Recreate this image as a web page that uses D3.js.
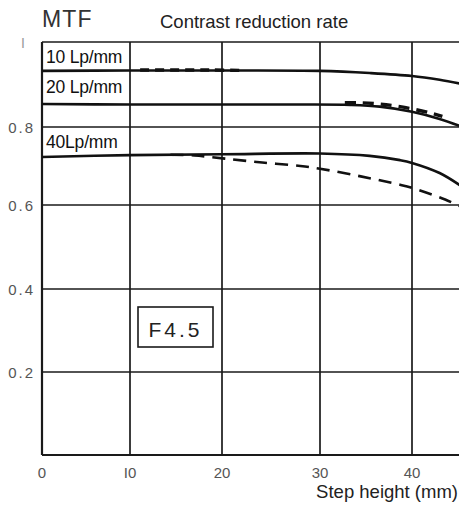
<!DOCTYPE html>
<html><head><meta charset="utf-8">
<script src="https://cdn.jsdelivr.net/npm/d3@7"></script>
<style>
html,body{margin:0;padding:0;background:#fff;}
svg{display:block;}
</style></head>
<body>
<svg id="c" width="459" height="506"></svg>
<script>
// ---- data ----
const xTicks = [0, 10, 20, 30, 40];
const yTicks = [0.2, 0.4, 0.6, 0.8];
const yTickLabels = ["0.2", "0.4", "0.6", "0.8"];
const seriesLabels = ["10 Lp/mm", "20 Lp/mm", "40Lp/mm"];

const lp10Solid = [[0,0.932],[10,0.933],[20,0.933],[30,0.932],[35.4,0.927],[40,0.920],[43,0.911],[45.5,0.901]];
const lp10Dashed = [[11.1,0.934],[15,0.934],[18.9,0.934],[22.2,0.933]];
const lp20Solid = [[0,0.854],[10,0.853],[20,0.853],[28,0.853],[33.3,0.852],[36.5,0.848],[40,0.836],[43,0.819],[45.5,0.800]];
const lp20Dashed = [[32.7,0.857],[34.3,0.857],[36.5,0.854],[39.2,0.846],[42,0.833],[43.3,0.825]];
const lp40Solid = [[0,0.723],[10,0.728],[20,0.730],[30,0.732],[35.4,0.726],[38.7,0.715],[40,0.708],[43,0.682],[45.5,0.646]];
const lp40Dashed = [[14.4,0.729],[17,0.727],[20.3,0.719],[24.1,0.709],[28,0.700],[30,0.693],[34.3,0.674],[38.7,0.652],[40,0.644],[43.6,0.614],[45.5,0.594]];

// ---- scales (piecewise to follow the printed grid) ----
const x = d3.scaleLinear().domain([0,10,20,30,40,50]).range([42,130,222,320,412,504]);
const y = d3.scaleLinear().domain([0,0.2,0.4,0.6,0.8,1]).range([455,372,289,205,127,42]);

const svg = d3.select("#c");
svg.append("defs").append("clipPath").attr("id","clip")
  .append("rect").attr("x",40).attr("y",30).attr("width",430).attr("height",430);

const ink = "#1a1a1a";
const grid = svg.append("g");
grid.selectAll("line.h").data([0, ...yTicks, 1]).join("line")
  .attr("x1", x(0)).attr("x2", 459)
  .attr("y1", d => y(d)).attr("y2", d => y(d))
  .attr("stroke", ink).attr("stroke-width", d => (d===0?2.2:1.7));
grid.selectAll("line.v").data(xTicks).join("line")
  .attr("x1", d => x(d)).attr("x2", d => x(d))
  .attr("y1", y(1)).attr("y2", y(0))
  .attr("stroke", ink).attr("stroke-width", d => (d===0?2.2:1.7));

// curves
const line = d3.line().x(d => x(d[0])).y(d => y(d[1])).curve(d3.curveCatmullRom.alpha(0.5));
const curves = svg.append("g").attr("clip-path","url(#clip)").attr("fill","none").attr("stroke", "#111");
curves.append("path").attr("d", line(lp10Solid)).attr("stroke-width", 2.6);
curves.append("path").attr("d", line(lp20Solid)).attr("stroke-width", 2.6);
curves.append("path").attr("d", line(lp40Solid)).attr("stroke-width", 2.6);
curves.append("path").attr("d", line(lp10Dashed)).attr("stroke-width", 3.4).attr("stroke-dasharray","9,6");
curves.append("path").attr("d", line(lp20Dashed)).attr("stroke-width", 3.4).attr("stroke-dasharray","11,7");
curves.append("path").attr("d", line(lp40Dashed)).attr("stroke-width", 2.6).attr("stroke-dasharray","13,8");

// series labels
const labelFont = "'Liberation Sans', Arial, sans-serif";
const labelY = [63, 93, 148];
svg.selectAll("text.series").data(seriesLabels).join("text")
  .attr("x", 46).attr("y", (d,i) => labelY[i])
  .attr("font-family", labelFont).attr("font-size", 17.5).attr("fill", "#111")
  .attr("letter-spacing", -0.2)
  .text(d => d);

// y tick labels
svg.selectAll("text.yt").data(yTicks).join("text")
  .attr("x", 35).attr("y", d => y(d) + 6)
  .attr("text-anchor","end")
  .attr("font-family", labelFont).attr("font-size", 15).attr("fill", "#555")
  .attr("letter-spacing", 2)
  .text((d,i) => yTickLabels[i]);
svg.append("text").attr("x", 23).attr("y", 48).attr("text-anchor","middle")
  .attr("font-family", labelFont).attr("font-size", 14).attr("fill", "#999").text("I");

// x tick labels
svg.selectAll("text.xt").data(xTicks).join("text")
  .attr("x", d => x(d)).attr("y", 478).attr("text-anchor","middle")
  .attr("font-family", labelFont).attr("font-size", 15).attr("fill", "#555")
  .text(d => d === 10 ? "I0" : String(d));

// titles
svg.append("text").attr("x", 42).attr("y", 27)
  .attr("font-family", labelFont).attr("font-size", 23).attr("fill", "#333")
  .attr("letter-spacing", 1.2).text("MTF");
svg.append("text").attr("x", 160).attr("y", 28)
  .attr("font-family", labelFont).attr("font-size", 18.5).attr("fill", "#222")
  .text("Contrast reduction rate");
svg.append("text").attr("x", 458).attr("y", 498).attr("text-anchor","end")
  .attr("font-family", labelFont).attr("font-size", 18.5).attr("fill", "#222")
  .text("Step height (mm)");

// F4.5 box
svg.append("rect").attr("x", 138).attr("y", 307).attr("width", 75).attr("height", 40)
  .attr("fill","#fff").attr("stroke", ink).attr("stroke-width", 1.6);
svg.append("text").attr("x", 175.5).attr("y", 337).attr("text-anchor","middle")
  .attr("font-family", labelFont).attr("font-size", 21).attr("fill", "#222")
  .attr("letter-spacing", 3).text("F4.5");
</script>
</body></html>
